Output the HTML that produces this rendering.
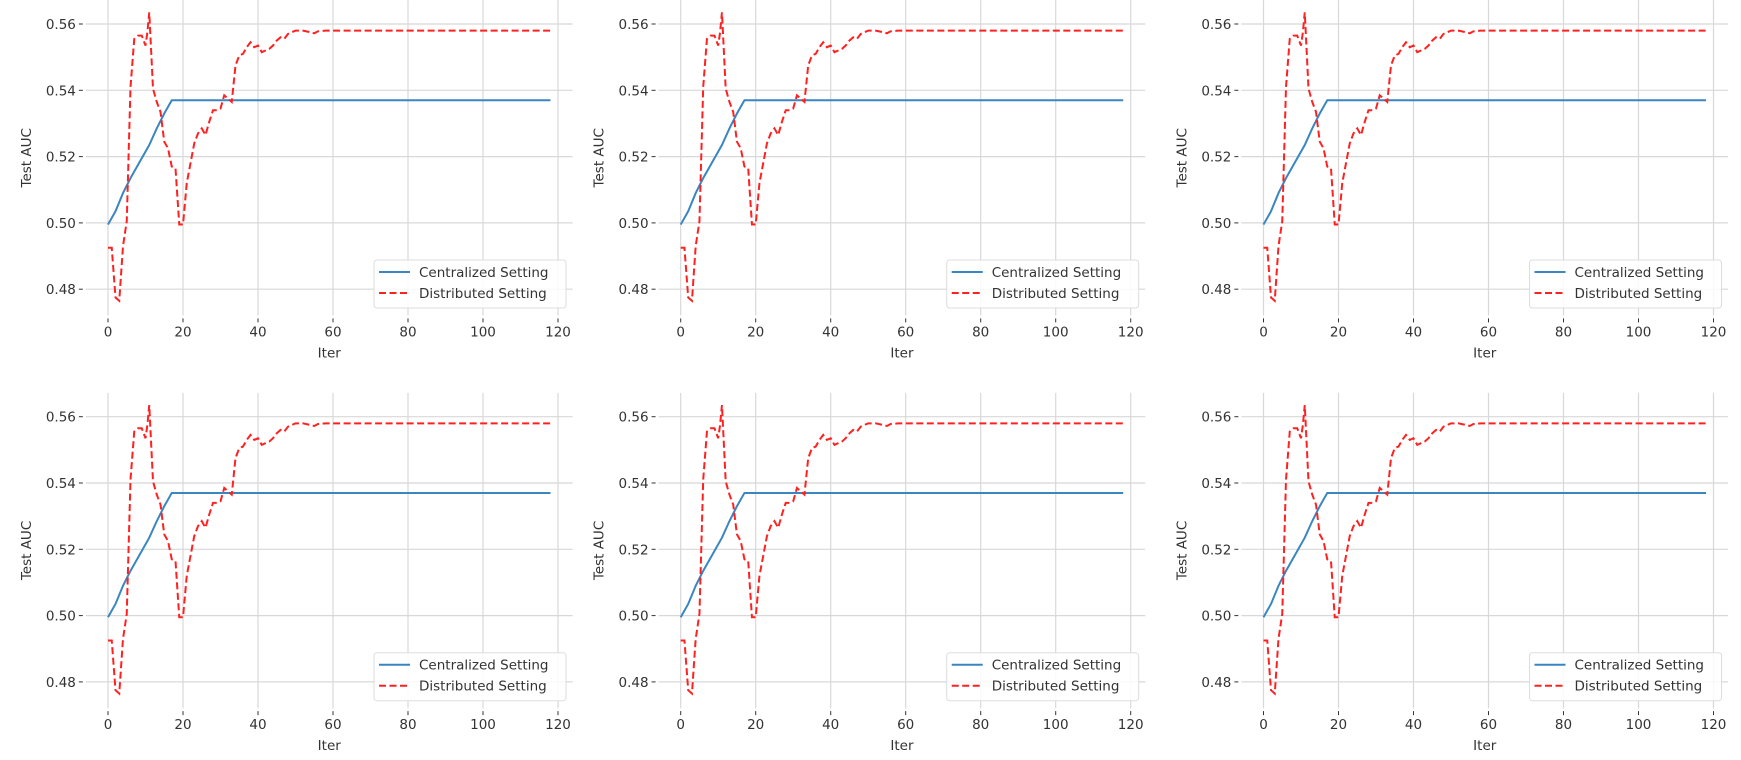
<!DOCTYPE html>
<html><head><meta charset="utf-8"><style>
body{margin:0;background:#fff;}
svg{display:block;font-family:"DejaVu Sans","Liberation Sans",sans-serif;}
</style></head><body>
<svg id="chart" width="1741" height="760" viewBox="0 0 1741 760" xmlns="http://www.w3.org/2000/svg"></svg>
<script>
const xTicks=[0,20,40,60,80,100,120];
const yTicks=[0.48,0.50,0.52,0.54,0.56];
const centX=[0,2,4,6,7,9,11,13,15,17,118];
const centY=[0.4995,0.5035,0.509,0.5135,0.5155,0.5195,0.5235,0.5285,0.533,0.537,0.537];
const distX=[0,1,2,3,4,5,6,7,8,9,10,10.5,11,12,13,14,15,16,17,18,19,20,21,22,23,24,25,26,27,28,29,30,31,32,33,34,35,36,37,38,39,40,41,42,43,44,45,46,47,48,49,50,52,54,55,56,58,60,118];
const distY=[0.4925,0.4925,0.4775,0.4765,0.493,0.5005,0.541,0.5555,0.5565,0.5565,0.5535,0.5575,0.5635,0.5405,0.5365,0.5335,0.5245,0.5225,0.517,0.5165,0.4995,0.4995,0.512,0.518,0.524,0.527,0.5285,0.5265,0.5305,0.534,0.534,0.5345,0.5385,0.5375,0.5365,0.5475,0.5505,0.551,0.553,0.5545,0.553,0.5535,0.5515,0.552,0.5525,0.5535,0.555,0.556,0.5555,0.557,0.5575,0.558,0.558,0.5575,0.5572,0.5578,0.558,0.558,0.558];
const panels=[[108,24],[680.7,24],[1263.5,24],[108,416.7],[680.7,416.7],[1263.5,416.7]];
const svg=document.getElementById('chart');
const NS='http://www.w3.org/2000/svg';
function mk(tag,attrs,parent){const e=document.createElementNS(NS,tag);for(const k in attrs)e.setAttribute(k,attrs[k]);(parent||svg).appendChild(e);return e;}
panels.forEach((p,i)=>{
  const x0=p[0],y56=p[1];
  const sx=v=>x0+v*3.75;
  const sy=v=>y56+(0.56-v)*3315;
  const g=mk('g',{});
  
  
  const top=Math.max(0,sy(0.5672)), bot=sy(0.4721), left=sx(-5.9), right=sx(123.9);
  xTicks.forEach(t=>{
    const gl=mk('line',{x1:sx(t),x2:sx(t),y1:top,y2:bot,stroke:'#d8d8d8','stroke-width':1.2},g);
    
    
    mk('line',{x1:sx(t),x2:sx(t),y1:bot+3,y2:bot+7,stroke:'#333','stroke-width':1},g);
    const tl=mk('text',{x:sx(t),y:bot+21,'text-anchor':'middle','font-size':13.5,fill:'#333'},g);
    tl.textContent=t;
    
    
  });
  yTicks.forEach(t=>{
    const gl=mk('line',{x1:left,x2:right,y1:sy(t),y2:sy(t),stroke:'#d8d8d8','stroke-width':1.2},g);
    
    
    mk('line',{x1:left-7,x2:left-3,y1:sy(t),y2:sy(t),stroke:'#333','stroke-width':1},g);
    const tl=mk('text',{x:left-10,y:sy(t)+5,'text-anchor':'end','font-size':13.5,fill:'#333'},g);
    tl.textContent=t.toFixed(2);
    
    
  });
  const xl=mk('text',{x:sx(59),y:bot+42,'text-anchor':'middle','font-size':13.5,fill:'#333'},g);
  xl.textContent='Iter';
  
  
  const ycy=(top+bot)/2, ycx=left-55;
  const yl=mk('text',{x:ycx,y:ycy,'text-anchor':'middle','font-size':13.5,fill:'#333',transform:`rotate(-90 ${ycx} ${ycy})`},g);
  yl.textContent='Test AUC';
  
  
  const c=mk('polyline',{points:centX.map((v,k)=>sx(v)+','+sy(centY[k])).join(' '),fill:'none',stroke:'#3a86c0','stroke-width':2},g);
  
  
  const d=mk('polyline',{points:distX.map((v,k)=>sx(v)+','+sy(distY[k])).join(' '),fill:'none',stroke:'#ff2020','stroke-width':2,'stroke-dasharray':'7,3.5'},g);
  
  
  const lg=mk('g',{},g);
  
  
  const lx=x0+266, ly=y56+236;
  mk('rect',{x:lx,y:ly,width:192,height:48,rx:3,fill:'#fff','fill-opacity':0.85,stroke:'#ddd'},lg);
  mk('line',{x1:lx+5,x2:lx+36,y1:ly+12,y2:ly+12,stroke:'#3a86c0','stroke-width':2},lg);
  mk('line',{x1:lx+5,x2:lx+36,y1:ly+33,y2:ly+33,stroke:'#ff2020','stroke-width':2,'stroke-dasharray':'7,3.5'},lg);
  const t1=mk('text',{x:lx+45,y:ly+17,'font-size':13.5,fill:'#333'},lg);
  t1.textContent='Centralized Setting';
  
  
  const t2=mk('text',{x:lx+45,y:ly+38,'font-size':13.5,fill:'#333'},lg);
  t2.textContent='Distributed Setting';
  
  
});
</script>
</body></html>
